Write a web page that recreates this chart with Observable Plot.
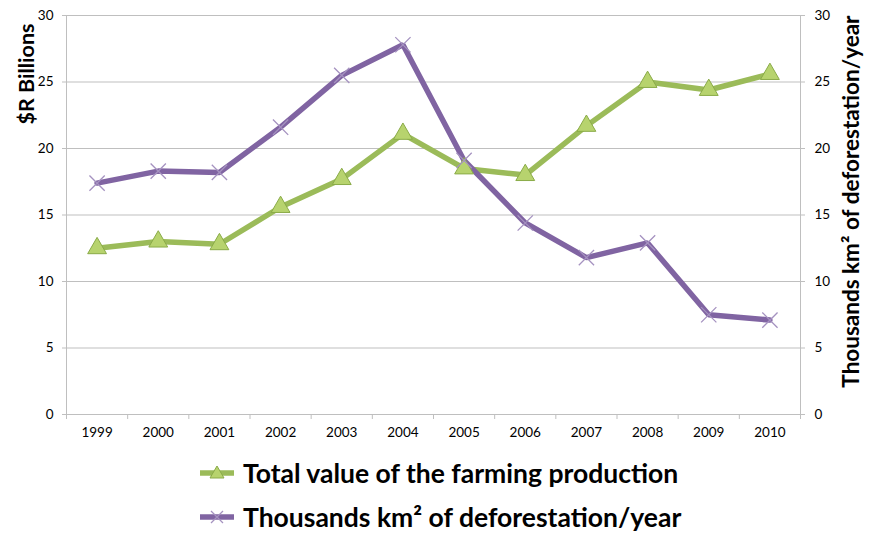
<!DOCTYPE html>
<html>
<head>
<meta charset="utf-8">
<script src="https://cdn.jsdelivr.net/npm/d3@7"></script>
<script src="https://cdn.jsdelivr.net/npm/@observablehq/plot@0.6"></script>
<style>
  html, body { margin: 0; padding: 0; background: #fff; }
  #wrap { position: relative; width: 872px; height: 559px; font-family: Lato, "Open Sans", sans-serif; }
  #chart svg { display: block; }
  .legend-row { position: absolute; left: 198px; height: 34px; display: flex; align-items: center; }
  .legend-row svg { width: 38px; height: 20px; margin-right: 7px; }
  .legend-row span { font-weight: bold; font-size: 26.5px; color: #000; white-space: nowrap; }
</style>
</head>
<body>
<div id="wrap">
  <div id="chart"></div>
  <div id="legend"></div>
</div>
<script>
// Years on the category axis
const years = [1999, 2000, 2001, 2002, 2003, 2004, 2005, 2006, 2007, 2008, 2009, 2010];
// Total value of farming production, $R billions
const farming = [12.5, 13.0, 12.8, 15.6, 17.7, 21.1, 18.5, 18.0, 21.7, 25.0, 24.4, 25.6];
// Deforestation, thousands of km² per year
const deforestation = [17.4, 18.3, 18.2, 21.6, 25.5, 27.8, 19.1, 14.4, 11.8, 12.9, 7.5, 7.1];
// Value-axis ticks (both sides share 0–30)
const yTicks = [0, 5, 10, 15, 20, 25, 30];

const seriesNames = ["Total value of the farming production", "Thousands km² of deforestation/year"];
const leftTitle = "$R Billions";
const rightTitle = "Thousands km² of deforestation/year";

const green = "#9bbb59", greenFill = "#b7d36e", greenEdge = "#8aab48";
const purple = "#8064a2", purpleMark = "#a592c0";
const gridColor = "#bfbfbf";

const rows = years.map((year, i) => ({year, farming: farming[i], deforestation: deforestation[i]}));
// category boundaries for the x-axis tick marks
const bounds = d3.range(years.length + 1).map(i => years[0] - 0.5 + i);

const chart = Plot.plot({
  width: 872,
  height: 450,
  marginTop: 15,
  marginBottom: 36,
  marginLeft: 66,
  marginRight: 72,
  style: {fontFamily: "Lato, 'Open Sans', sans-serif", fontSize: "13.5px", color: "#000", background: "#fff"},
  x: {type: "linear", domain: [bounds[0], bounds[bounds.length - 1]]},
  y: {domain: [0, 30]},
  marks: [
    Plot.gridY(yTicks.filter(d => d > 0), {stroke: gridColor, strokeOpacity: 1}),
    Plot.ruleX([bounds[0], bounds[bounds.length - 1]], {y1: 0, y2: 30, stroke: gridColor}),
    Plot.ruleY([0], {stroke: gridColor}),
    Plot.axisY(yTicks, {anchor: "left", tickSize: 4, tickPadding: 9, stroke: gridColor, label: null}),
    Plot.axisY(yTicks, {anchor: "right", tickSize: 4, tickPadding: 10, stroke: gridColor, label: null}),
    Plot.axisX(bounds, {anchor: "bottom", tickSize: 5, tickFormat: () => "", stroke: gridColor, label: null}),
    Plot.axisX(years, {anchor: "bottom", tickSize: 0, tickPadding: 13, tickFormat: d => String(d), label: null}),
    Plot.line(rows, {x: "year", y: "farming", stroke: green, strokeWidth: 5.5, strokeLinejoin: "miter"}),
    Plot.line(rows, {x: "year", y: "deforestation", stroke: purple, strokeWidth: 5.5, strokeLinejoin: "miter"}),
    Plot.dot(rows, {x: "year", y: "farming", symbol: "triangle", r: 7, fill: greenFill, stroke: greenEdge, strokeWidth: 1}),
    Plot.dot(rows, {x: "year", y: "deforestation", symbol: "times", r: 7, stroke: purpleMark, strokeWidth: 1.3}),
    Plot.text([leftTitle], {frameAnchor: "top-left", dx: -39, dy: 8, rotate: -90, textAnchor: "end", lineAnchor: "middle", fontSize: 21.5, fontWeight: "bold"}),
    Plot.text([rightTitle], {frameAnchor: "top-right", dx: 51, dy: 0, rotate: -90, textAnchor: "end", lineAnchor: "middle", fontSize: 22.5, fontWeight: "bold"})
  ]
});
document.getElementById("chart").appendChild(chart);

// Legend below the chart
const legend = document.getElementById("legend");
const legendItems = [
  {name: seriesNames[0], color: green, top: 456, marker: `<path d="M19,3 L26,15 L12,15 Z" fill="${greenFill}" stroke="${greenEdge}" stroke-width="1"/>`},
  {name: seriesNames[1], color: purple, top: 500, marker: `<path d="M13,4 L25,16 M25,4 L13,16" stroke="${purpleMark}" stroke-width="1.3"/>`}
];
for (const item of legendItems) {
  const row = document.createElement("div");
  row.className = "legend-row";
  row.style.top = item.top + "px";
  row.innerHTML = `<svg viewBox="0 0 38 20"><line x1="2" y1="10" x2="36" y2="10" stroke="${item.color}" stroke-width="5.5"/>${item.marker}</svg><span>${item.name}</span>`;
  legend.appendChild(row);
}
</script>
</body>
</html>
